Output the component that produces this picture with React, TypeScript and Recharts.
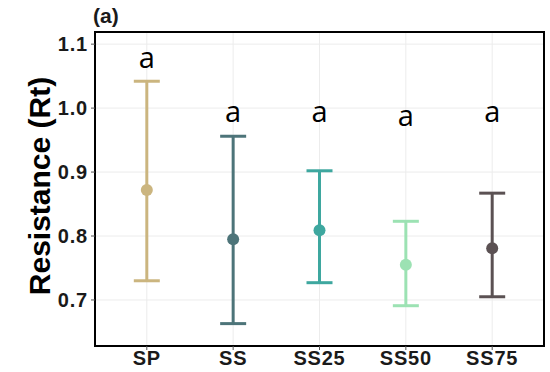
import React from "react";
import {
  ComposedChart,
  Scatter,
  ErrorBar,
  XAxis,
  YAxis,
  CartesianGrid,
  ReferenceArea,
  Label,
} from "recharts";

const groups = ["SP", "SS", "SS25", "SS50", "SS75"];
const means = [0.872, 0.795, 0.809, 0.755, 0.781];
const lows = [0.73, 0.663, 0.727, 0.691, 0.705];
const highs = [1.042, 0.956, 0.902, 0.823, 0.867];
const letters = ["a", "a", "a", "a", "a"];
const letterY = [1.063, 0.978, 0.978, 0.972, 0.978];
const colors = ["#cbb57f", "#4d7479", "#3ea79f", "#9ce2b3", "#5b5153"];
const yTicks = [0.7, 0.8, 0.9, 1.0, 1.1];

const Y_MIN = 0.628;
const Y_MAX = 1.119;

const tickStyle = {
  fontFamily: "Liberation Sans, Arial, sans-serif",
  fontWeight: 700,
  fontSize: 20,
  letterSpacing: 0.8,
  fill: "#1a1a1a",
};

const Dot = (props: any) => {
  const { cx, cy, fill } = props;
  return <circle cx={cx} cy={cy} r={6} fill={fill} />;
};

const Letter = (props: any) => {
  const { cx, cy, payload } = props;
  return (
    <text
      x={cx}
      y={cy}
      textAnchor="middle"
      fontFamily="Open Sans, sans-serif"
      fontSize={29}
      fill="#000"
    >
      {payload.letter}
    </text>
  );
};

export default function App() {
  const letterData = groups.map((g, i) => ({
    x: i + 1,
    y: letterY[i],
    letter: letters[i],
  }));

  return (
    <div style={{ position: "absolute", left: 0, top: 0, width: 550, height: 372, background: "#fff" }}>
      <div
        style={{
          position: "absolute",
          left: 93,
          top: 4,
          lineHeight: "24px",
          fontFamily: "Liberation Sans, Arial, sans-serif",
          fontWeight: 700,
          fontSize: 21,
          color: "#1a1a1a",
        }}
      >
        (a)
      </div>
      <ComposedChart
        width={550}
        height={372}
        margin={{ top: 32, right: 6, bottom: 0, left: 0 }}
      >
        <CartesianGrid stroke="#ececec" strokeWidth={1} />
        <XAxis
          type="number"
          dataKey="x"
          domain={[0.4, 5.6]}
          ticks={[1, 2, 3, 4, 5]}
          tickFormatter={(v: number) => groups[v - 1] ?? ""}
          tick={tickStyle}
          tickLine={{ stroke: "#555" }}
          tickSize={4}
          tickMargin={1}
          axisLine={{ stroke: "#000", strokeWidth: 2 }}
          allowDataOverflow
          height={26}
        />
        <YAxis
          type="number"
          dataKey="y"
          domain={[Y_MIN, Y_MAX]}
          ticks={yTicks}
          tickFormatter={(v: number) => v.toFixed(1)}
          tick={tickStyle}
          tickLine={{ stroke: "#555" }}
          tickSize={4}
          tickMargin={3}
          axisLine={{ stroke: "#000", strokeWidth: 2 }}
          allowDataOverflow
          width={95}
        >
          <Label
            value="Resistance (Rt)"
            angle={-90}
            position="center"
            dx={-8}
            dy={-3}
            style={{
              fontFamily: "Liberation Sans, Arial, sans-serif",
              fontWeight: 700,
              fontSize: 30,
              fill: "#000",
            }}
          />
        </YAxis>
        <ReferenceArea
          x1={0.4}
          x2={5.6}
          y1={Y_MIN}
          y2={Y_MAX}
          fill="none"
          stroke="#000"
          strokeWidth={2}
          ifOverflow="visible"
        />
        {groups.map((g, i) => (
          <Scatter
            key={g}
            name={g}
            data={[
              {
                x: i + 1,
                y: means[i],
                err: [means[i] - lows[i], highs[i] - means[i]],
              },
            ]}
            fill={colors[i]}
            shape={<Dot />}
            isAnimationActive={false}
          >
            <ErrorBar
              dataKey="err"
              direction="y"
              width={13}
              stroke={colors[i]}
              strokeWidth={3}
              isAnimationActive={false}
            />
          </Scatter>
        ))}
        <Scatter
          data={letterData}
          shape={<Letter />}
          isAnimationActive={false}
        />
      </ComposedChart>
    </div>
  );
}
